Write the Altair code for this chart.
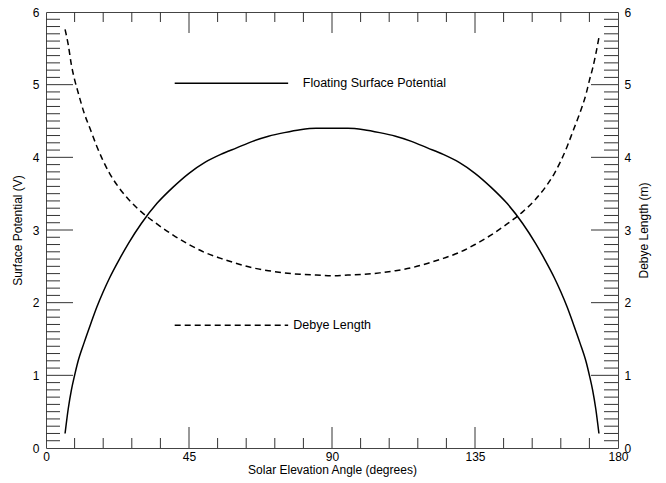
import altair as alt
import pandas as pd

# Solar elevation angle (degrees) at which both quantities are sampled
angle = [6, 7, 8, 9, 10, 12, 14, 16, 18, 20, 23, 26, 30, 35, 40, 45, 50, 55, 60, 65, 70, 75, 80, 85, 90,
         95, 100, 105, 110, 115, 120, 125, 130, 135, 140, 145, 150, 154, 157, 160, 162, 164, 166, 168, 170,
         171, 172, 173, 174]

# Floating surface potential (V)
potential = [0.20, 0.54, 0.80, 1.00, 1.18, 1.45, 1.70, 1.94, 2.15, 2.34, 2.59, 2.82, 3.09, 3.37, 3.59,
             3.78, 3.93, 4.04, 4.13, 4.22, 4.29, 4.34, 4.38, 4.40, 4.40,
             4.40, 4.38, 4.34, 4.29, 4.22, 4.13, 4.04, 3.93, 3.78, 3.59, 3.37, 3.09, 2.82, 2.59,
             2.34, 2.15, 1.94, 1.70, 1.45, 1.18, 1.00, 0.80, 0.54, 0.20]

# Debye length (m)
debye = [5.76, 5.55, 5.27, 5.07, 4.91, 4.61, 4.38, 4.15, 3.95, 3.78, 3.58, 3.42, 3.25, 3.08, 2.93,
         2.80, 2.69, 2.61, 2.54, 2.48, 2.44, 2.41, 2.39, 2.38, 2.37,
         2.38, 2.39, 2.41, 2.44, 2.48, 2.54, 2.61, 2.69, 2.80, 2.93, 3.08, 3.25, 3.42, 3.58,
         3.78, 3.95, 4.15, 4.38, 4.61, 4.88, 5.06, 5.22, 5.42, 5.65]

x_labels = [0, 45, 90, 135, 180]
y_labels = [0, 1, 2, 3, 4, 5, 6]
x_minor = [9, 18, 27, 36, 54, 63, 72, 81, 99, 108, 117, 126, 144, 153, 162, 171]
x_major = [45, 90, 135]
y_minor = [i / 10 for i in range(1, 60) if i % 10]
y_major = [1, 2, 3, 4, 5]

# In-plot key: line extents and label anchors, in data units
key_x = [40.5, 76.2]
key_potential_y = 5.02
key_debye_y = 1.69
key_potential_label_x = 80.8
key_debye_label_x = 77.8

FONT = "Liberation Sans"
INK = "#000000"
TICK = "#333333"

curves = pd.DataFrame({"angle": angle, "potential": potential, "debye": debye})

xscale = alt.Scale(domain=[0, 180], nice=False, zero=False)
yscale = alt.Scale(domain=[0, 6], nice=False, zero=False)

# The x axis is shared by every layer, so each layer carries the same definition
x_axis = alt.Axis(values=x_labels, format="d", ticks=False, domain=False, grid=False,
                  labelPadding=3, title="Solar Elevation Angle (degrees)", titlePadding=2,
                  labelFlush=False)
shared_x = dict(scale=xscale, axis=x_axis)
no_y = dict(scale=yscale, axis=None)

potential_line = alt.Chart(curves).mark_line(color=INK, strokeWidth=1.5, interpolate="monotone").encode(
    x=alt.X("angle:Q", **shared_x),
    y=alt.Y("potential:Q", scale=yscale,
            axis=alt.Axis(orient="left", values=y_labels, format="d", ticks=False, domain=False,
                          grid=False, labelPadding=7, title="Surface Potential (V)", titlePadding=8)),
)

debye_line = alt.Chart(curves).mark_line(color=INK, strokeWidth=1.5, strokeDash=[6, 4],
                                         interpolate="monotone").encode(
    x=alt.X("angle:Q", **shared_x),
    y=alt.Y("debye:Q", scale=yscale,
            axis=alt.Axis(orient="right", values=y_labels, format="d", ticks=False, domain=False,
                          grid=False, labelPadding=6, title="Debye Length (m)", titlePadding=8,
                          titleAngle=270, titleBaseline="top")),
)


def rules(values, field, **mark):
    df = pd.DataFrame({field: values})
    return alt.Chart(df).mark_rule(color=TICK, strokeWidth=1, **mark)


def at_x(value):
    return dict(x=alt.XDatum(value, **shared_x), x2=alt.X2Datum(value))


def at_y(value):
    return dict(y=alt.YDatum(value, **no_y), y2=alt.Y2Datum(value))


# Inward-pointing ticks on all four sides of the frame
y_ticks = [
    rules(y_minor, "v", x2Offset=14).encode(y=alt.Y("v:Q", **no_y), **at_x(0)),
    rules(y_major, "v", x2Offset=27).encode(y=alt.Y("v:Q", **no_y), **at_x(0)),
    rules(y_minor, "v", x2Offset=-14).encode(y=alt.Y("v:Q", **no_y), **at_x(180)),
    rules(y_major, "v", x2Offset=-27).encode(y=alt.Y("v:Q", **no_y), **at_x(180)),
]
x_ticks = [
    rules(x_minor, "a", y2Offset=-10).encode(x=alt.X("a:Q", **shared_x), **at_y(0)),
    rules(x_major, "a", y2Offset=-21).encode(x=alt.X("a:Q", **shared_x), **at_y(0)),
    rules(x_minor, "a", y2Offset=10).encode(x=alt.X("a:Q", **shared_x), **at_y(6)),
    rules(x_major, "a", y2Offset=21).encode(x=alt.X("a:Q", **shared_x), **at_y(6)),
]

key_potential = alt.Chart(pd.DataFrame({"a": key_x, "v": [key_potential_y] * 2})).mark_line(
    color=INK, strokeWidth=1.5).encode(x=alt.X("a:Q", **shared_x), y=alt.Y("v:Q", **no_y))
key_debye = alt.Chart(pd.DataFrame({"a": key_x, "v": [key_debye_y] * 2})).mark_line(
    color=INK, strokeWidth=1.5, strokeDash=[6, 4]).encode(x=alt.X("a:Q", **shared_x), y=alt.Y("v:Q", **no_y))

key_text = alt.Chart(pd.DataFrame({
    "a": [key_potential_label_x, key_debye_label_x],
    "v": [key_potential_y, key_debye_y],
    "label": ["Floating Surface Potential", "Debye Length"],
})).mark_text(align="left", baseline="middle", font=FONT, fontSize=12.5, color=INK).encode(
    x=alt.X("a:Q", **shared_x), y=alt.Y("v:Q", **no_y), text="label:N")

chart = alt.layer(
    potential_line, debye_line, *y_ticks, *x_ticks, key_potential, key_debye, key_text
).resolve_scale(y="independent").properties(
    width=572, height=436,
    padding={"left": 46, "top": 12, "right": 48, "bottom": 35},
    autosize=alt.AutoSizeParams(type="none"),
    background="white",
).configure_view(stroke="#444444", strokeWidth=1).configure_axis(
    labelFont=FONT, titleFont=FONT, labelFontSize=12, titleFontSize=12,
    labelColor=INK, titleColor=INK, titleFontWeight="normal",
)

chart.save("out.html", embed_options={"renderer": "svg", "actions": False})
